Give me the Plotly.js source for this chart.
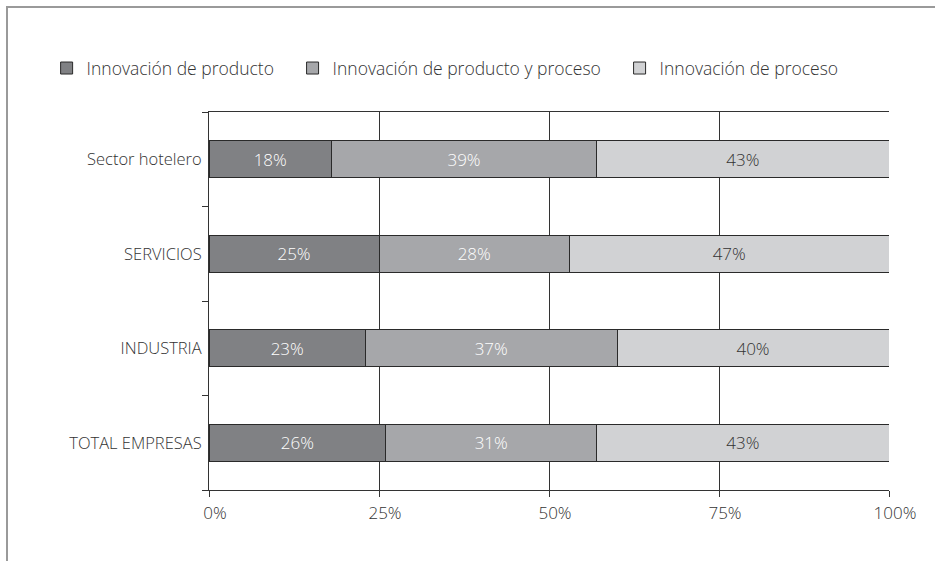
<!DOCTYPE html>
<html>
<head>
<meta charset="utf-8">
<script src="https://cdn.plot.ly/plotly-3.0.1.min.js"></script>
<style>
html,body{margin:0;padding:0;background:#fff;}
#wrap{position:relative;width:935px;height:561px;}
#chart{width:935px;height:561px;}
#frame{position:absolute;left:6px;top:6px;width:935px;height:561px;border-top:2px solid #9a9a9a;border-left:2px solid #9a9a9a;pointer-events:none;}
</style>
</head>
<body>
<div id="wrap"><div id="chart"></div><div id="frame"></div></div>
<script>
const categories = ['TOTAL EMPRESAS', 'INDUSTRIA', 'SERVICIOS', 'Sector hotelero'];
const seriesNames = ['Innovación de producto', 'Innovación de producto y proceso', 'Innovación de proceso'];
const producto = [26, 23, 25, 18];
const productoYProceso = [31, 37, 28, 39];
const proceso = [43, 40, 47, 43];
const tickValues = [0, 25, 50, 75, 100];
const tickLabels = ['0%', '25%', '50%', '75%', '100%'];

const colors = ['#808184', '#a6a7aa', '#d1d2d4'];
const textColors = ['#ffffff', '#ffffff', '#333333'];
const legendIds = ['legend', 'legend2', 'legend3'];
const legendX = [-0.2388, 0.1229, 0.6038];
const FONT = 'Open Sans, Liberation Sans, Arial, sans-serif';

const values = [producto, productoYProceso, proceso];
const traces = values.map((v, i) => ({
  type: 'bar',
  orientation: 'h',
  name: seriesNames[i],
  legend: legendIds[i],
  y: categories,
  x: v,
  text: v.map(n => n + '%'),
  textposition: 'inside',
  insidetextanchor: 'middle',
  textfont: {family: FONT, size: 17, weight: 300, color: textColors[i]},
  marker: {color: colors[i], line: {color: '#2a2a2a', width: 1}},
  hoverinfo: 'none'
}));

const layout = {
  width: 935, height: 561,
  margin: {l: 209, r: 46, t: 112, b: 71},
  paper_bgcolor: '#ffffff',
  plot_bgcolor: '#ffffff',
  barmode: 'stack',
  bargap: 0.61,
  font: {family: FONT, size: 17, weight: 300, color: '#333333'},
  showlegend: true,
  xaxis: {
    range: [0, 100], tickvals: tickValues, ticktext: tickLabels,
    showgrid: true, gridcolor: '#333333', gridwidth: 1,
    showline: true, linecolor: '#333333', linewidth: 1, mirror: true,
    ticks: 'outside', ticklen: 6, tickcolor: '#333333',
    ticklabelshift: 6, ticklabelstandoff: 2,
    zeroline: false, fixedrange: true,
    tickfont: {family: FONT, size: 17, weight: 300, color: '#333333'}
  },
  yaxis: {
    type: 'category', categoryorder: 'array', categoryarray: categories,
    showgrid: false, showline: true, linecolor: '#333333', linewidth: 1,
    ticks: 'outside', tickson: 'boundaries', ticklen: 6, tickcolor: '#333333',
    ticklabelstandoff: 3,
    zeroline: false, fixedrange: true,
    tickfont: {family: FONT, size: 16.5, weight: 300, color: '#333333'}
  }
};
legendIds.forEach((id, i) => {
  layout[id] = {
    orientation: 'h', x: legendX[i], xanchor: 'left', y: 1.116, yanchor: 'middle',
    font: {family: FONT, size: 17.5, weight: 300, color: '#333333'},
    bgcolor: 'rgba(0,0,0,0)', itemclick: false
  };
});

Plotly.newPlot('chart', traces, layout, {displayModeBar: false, staticPlot: true});
</script>
</body>
</html>
